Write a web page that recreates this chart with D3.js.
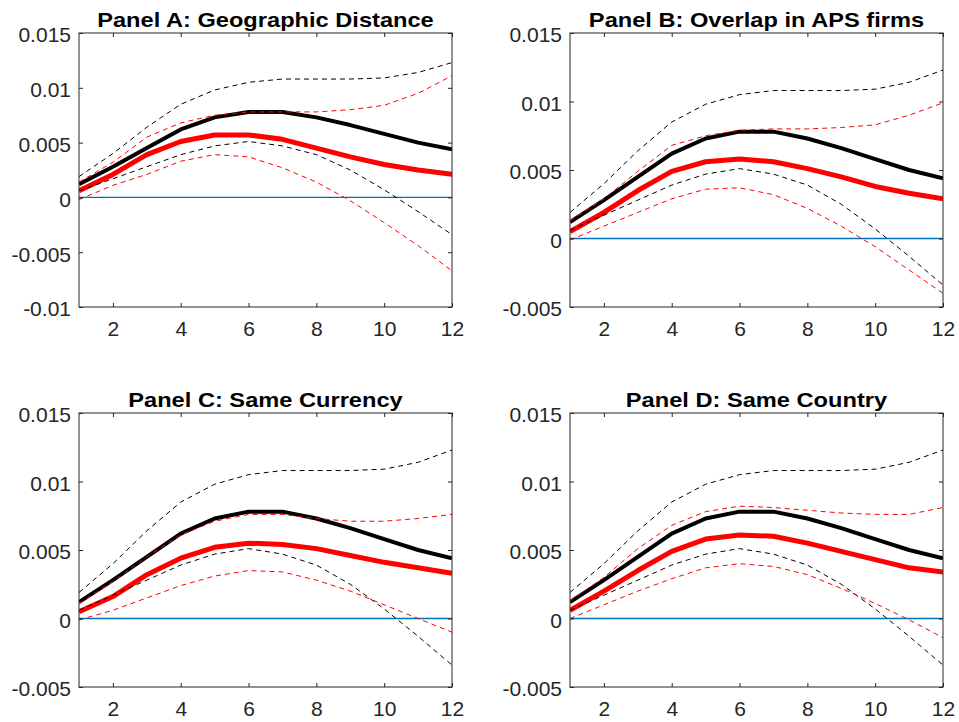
<!DOCTYPE html>
<html>
<head>
<meta charset="utf-8">
<script src="https://cdn.jsdelivr.net/npm/d3@7"></script>
<style>
  html, body { margin: 0; padding: 0; background: #fff; }
  svg { display: block; }
</style>
</head>
<body>
<svg id="chart" width="959" height="722"></svg>
<script>
// ---------- DATA ----------
const horizons = [1, 2, 3, 4, 5, 6, 7, 8, 9, 10, 11, 12];

// common (black) estimate and its bands
const blackMean  = [0.0012, 0.0028, 0.0045, 0.0062, 0.0073, 0.0078, 0.0078, 0.0073, 0.0066, 0.0058, 0.0050, 0.0044];
const blackUpper = [0.0019, 0.0040, 0.0064, 0.0085, 0.0098, 0.0105, 0.0108, 0.0108, 0.0108, 0.0109, 0.0114, 0.0123];
const blackLower = [0.0006, 0.0017, 0.0028, 0.0039, 0.0047, 0.0051, 0.0047, 0.0039, 0.0025, 0.0007, -0.0013, -0.0034];

// Panel A: Geographic Distance
const redMeanA  = [0.0006, 0.0021, 0.0039, 0.0051, 0.0057, 0.0057, 0.0053, 0.0045, 0.0037, 0.0030, 0.0025, 0.0021];
const redUpperA = [0.0014, 0.0032, 0.0055, 0.0068, 0.0075, 0.0078, 0.0078, 0.0078, 0.0080, 0.0084, 0.0095, 0.0111];
const redLowerA = [-0.0002, 0.0011, 0.0021, 0.0033, 0.0039, 0.0037, 0.0027, 0.0014, -0.0003, -0.0023, -0.0044, -0.0067];

// Panel B: Overlap in APS firms
const redMeanB  = [0.0005, 0.0019, 0.0035, 0.0049, 0.0056, 0.0058, 0.0056, 0.0051, 0.0045, 0.0038, 0.0033, 0.0029];
const redUpperB = [0.0013, 0.0029, 0.0049, 0.0068, 0.0075, 0.0079, 0.0080, 0.0080, 0.0081, 0.0083, 0.0090, 0.0099];
const redLowerB = [-0.0001, 0.0009, 0.0019, 0.0029, 0.0036, 0.0037, 0.0032, 0.0022, 0.0009, -0.0006, -0.0023, -0.0040];

// Panel C: Same Currency
const redMeanC  = [0.0005, 0.0016, 0.0032, 0.0044, 0.0052, 0.0055, 0.0054, 0.0051, 0.0046, 0.0041, 0.0037, 0.0033];
const redUpperC = [0.0011, 0.0027, 0.0045, 0.0061, 0.0071, 0.0076, 0.0076, 0.0073, 0.0071, 0.0071, 0.0073, 0.0076];
const redLowerC = [-0.0001, 0.0006, 0.0015, 0.0024, 0.0031, 0.0035, 0.0034, 0.0028, 0.0020, 0.0010, 0.0000, -0.0010];

// Panel D: Same Country
const redMeanD  = [0.0006, 0.0020, 0.0035, 0.0049, 0.0058, 0.0061, 0.0060, 0.0055, 0.0049, 0.0043, 0.0037, 0.0034];
const redUpperD = [0.0013, 0.0030, 0.0051, 0.0068, 0.0078, 0.0082, 0.0081, 0.0079, 0.0077, 0.0076, 0.0076, 0.0081];
const redLowerD = [0.0000, 0.0010, 0.0020, 0.0029, 0.0037, 0.0040, 0.0038, 0.0032, 0.0022, 0.0011, -0.0001, -0.0014];

const titles = ["Panel A: Geographic Distance", "Panel B: Overlap in APS firms",
                "Panel C: Same Currency", "Panel D: Same Country"];
const yDomains = [[-0.01, 0.015], [-0.005, 0.015], [-0.005, 0.015], [-0.005, 0.015]];
const xTicks = [2, 4, 6, 8, 10, 12];
const yTicksA = [-0.01, -0.005, 0, 0.005, 0.01, 0.015];
const yTicksBCD = [-0.005, 0, 0.005, 0.01, 0.015];

// ---------- LAYOUT ----------
const panels = [
  { left: 79,  right: 452, top: 33,  bottom: 307, red: [redMeanA, redUpperA, redLowerA], yTicks: yTicksA },
  { left: 570, right: 943, top: 33,  bottom: 307, red: [redMeanB, redUpperB, redLowerB], yTicks: yTicksBCD },
  { left: 79,  right: 452, top: 413, bottom: 687, red: [redMeanC, redUpperC, redLowerC], yTicks: yTicksBCD },
  { left: 570, right: 943, top: 413, bottom: 687, red: [redMeanD, redUpperD, redLowerD], yTicks: yTicksBCD }
];

const svg = d3.select("#chart");
const axisColor = "#262626";
const fontFam = "'Liberation Sans', Arial, Helvetica, sans-serif";
const fmt = v => (Math.abs(v) < 1e-12 ? "0" : String(+v.toFixed(3)));
const titleStretch = 1.125;

panels.forEach((p, i) => {
  const x = d3.scaleLinear().domain([1, 12]).range([p.left, p.right]);
  const y = d3.scaleLinear().domain(yDomains[i]).range([p.bottom, p.top]);
  const g = svg.append("g");

  const clipId = "clip" + i;
  g.append("clipPath").attr("id", clipId).append("rect")
    .attr("x", p.left).attr("y", p.top)
    .attr("width", p.right - p.left).attr("height", p.bottom - p.top);

  const plot = g.append("g").attr("clip-path", `url(#${clipId})`);
  const line = d3.line().x((d, k) => x(horizons[k])).y(d => y(d));

  // zero line
  plot.append("line")
    .attr("x1", x(1)).attr("x2", x(12)).attr("y1", y(0)).attr("y2", y(0))
    .attr("stroke", "#0072BD").attr("stroke-width", 1.3);

  // thick lines
  plot.append("path").datum(blackMean).attr("d", line)
    .attr("fill", "none").attr("stroke", "#000").attr("stroke-width", 4)
    .attr("stroke-linejoin", "round");
  plot.append("path").datum(p.red[0]).attr("d", line)
    .attr("fill", "none").attr("stroke", "#FF0000").attr("stroke-width", 5)
    .attr("stroke-linejoin", "round");
  // dashed bands
  const dashed = [[blackUpper, "#000"], [blackLower, "#000"], [p.red[1], "#FF0000"], [p.red[2], "#FF0000"]];
  dashed.forEach(([arr, col]) => {
    plot.append("path").datum(arr).attr("d", line)
      .attr("fill", "none").attr("stroke", col).attr("stroke-width", 1)
      .attr("stroke-dasharray", "5,4");
  });

  // axes (inner ticks, box)
  const tickLen = 4;
  const xAxisB = d3.axisBottom(x).tickValues(xTicks).tickSize(-tickLen).tickPadding(14).tickFormat(d3.format("d"));
  const xAxisT = d3.axisTop(x).tickValues(xTicks).tickSize(-tickLen).tickFormat("");
  const yAxisL = d3.axisLeft(y).tickValues(p.yTicks).tickSize(-tickLen).tickPadding(8).tickFormat(fmt);
  const yAxisR = d3.axisRight(y).tickValues(p.yTicks).tickSize(-tickLen).tickFormat("");

  const styleAxis = sel => {
    sel.selectAll(".tick line").attr("stroke", axisColor).attr("stroke-width", 1);
    sel.selectAll(".tick text").attr("fill", axisColor)
      .style("font-family", fontFam).style("font-size", "21px");
  };
  g.append("g").attr("transform", `translate(0,${p.bottom})`).call(xAxisB).call(styleAxis);
  g.append("g").attr("transform", `translate(0,${p.top})`).call(xAxisT).call(styleAxis);
  g.append("g").attr("transform", `translate(${p.left},0)`).call(yAxisL).call(styleAxis)
    .selectAll(".tick text").attr("dy", "0.42em");
  g.append("g").attr("transform", `translate(${p.right},0)`).call(yAxisR).call(styleAxis);
  g.selectAll(".domain").remove();
  g.append("rect")
    .attr("x", p.left).attr("y", p.top)
    .attr("width", p.right - p.left).attr("height", p.bottom - p.top)
    .attr("fill", "none").attr("stroke", axisColor).attr("stroke-width", 1);

  // title (glyphs slightly widened, as in the reference rendering)
  const t = g.append("text")
    .attr("x", (p.left + p.right) / 2).attr("y", p.top - 6)
    .attr("text-anchor", "middle")
    .style("font-family", fontFam).style("font-weight", "bold").style("font-size", "21px")
    .attr("fill", "#000")
    .text(titles[i]);
  const natural = t.node().getComputedTextLength();
  t.attr("textLength", natural * titleStretch).attr("lengthAdjust", "spacingAndGlyphs");
});
</script>
</body>
</html>
